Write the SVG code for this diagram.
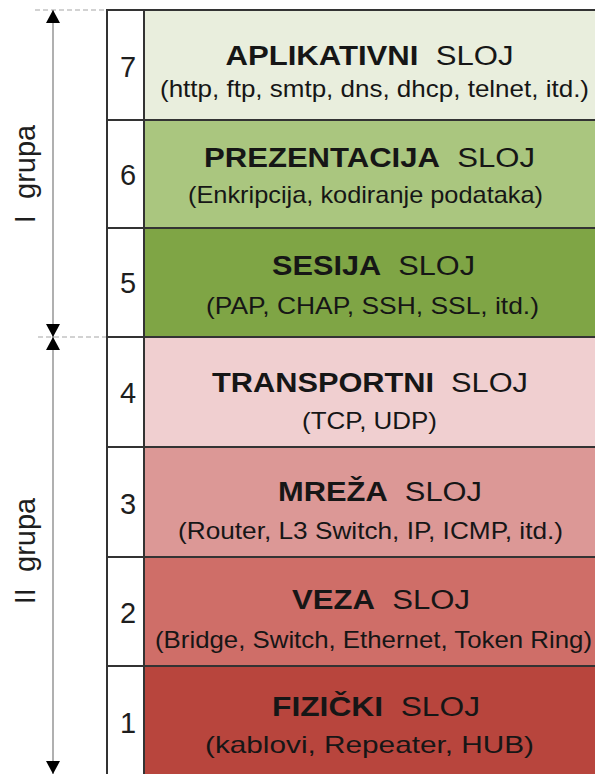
<svg xmlns="http://www.w3.org/2000/svg" width="595" height="774" viewBox="0 0 595 774">
<style>
.t{font-family:"Liberation Sans",Arial,sans-serif;fill:#161616;text-anchor:middle}
.title{font-size:27px}
.b{font-weight:bold}
.sub{font-size:24px}
.num{font-family:"Liberation Sans",Arial,sans-serif;font-size:29px;fill:#1e1e1e;text-anchor:middle}
.grp{font-family:"Liberation Sans",Arial,sans-serif;font-size:29px;fill:#1e1e1e;text-anchor:middle}
.sep{stroke:#333;stroke-width:2}
.dash{stroke:#c4c4c4;stroke-width:1.5;stroke-dasharray:5,3}
.brk{stroke:#b0b0b0;stroke-width:2;fill:none}
</style>
<defs>
<marker id="arr" markerUnits="userSpaceOnUse" markerWidth="13" markerHeight="14" refX="13" refY="7" orient="auto-start-reverse">
<path d="M0,0 L13,7 L0,14 z" fill="#000"/>
</marker>
</defs>
<rect width="595" height="774" fill="#fff"/>

<g id="layer7">
<rect x="144" y="10" width="451" height="110" fill="#e9eedd"/>
<text class="num" x="128" y="77">7</text>
<text class="t title" x="369.5" y="65" textLength="288" lengthAdjust="spacingAndGlyphs" xml:space="preserve"><tspan class="b">APLIKATIVNI</tspan>  SLOJ</text>
<text class="t sub" x="374.5" y="97" textLength="429" lengthAdjust="spacingAndGlyphs">(http, ftp, smtp, dns, dhcp, telnet, itd.)</text>
</g>
<g id="layer6">
<rect x="144" y="120" width="451" height="108" fill="#aac67f"/>
<text class="num" x="128" y="185">6</text>
<text class="t title" x="369.5" y="167" textLength="331" lengthAdjust="spacingAndGlyphs" xml:space="preserve"><tspan class="b">PREZENTACIJA</tspan>  SLOJ</text>
<text class="t sub" x="365.5" y="203" textLength="355" lengthAdjust="spacingAndGlyphs">(Enkripcija, kodiranje podataka)</text>
</g>
<g id="layer5">
<rect x="144" y="228" width="451" height="109" fill="#7fa545"/>
<text class="num" x="128" y="293">5</text>
<text class="t title" x="373.5" y="275" textLength="203" lengthAdjust="spacingAndGlyphs" xml:space="preserve"><tspan class="b">SESIJA</tspan>  SLOJ</text>
<text class="t sub" x="372.5" y="314" textLength="333" lengthAdjust="spacingAndGlyphs">(PAP, CHAP, SSH, SSL, itd.)</text>
</g>
<g id="layer4">
<rect x="144" y="337" width="451" height="110" fill="#f0cfd0"/>
<text class="num" x="128" y="403">4</text>
<text class="t title" x="370" y="392" textLength="316" lengthAdjust="spacingAndGlyphs" xml:space="preserve"><tspan class="b">TRANSPORTNI</tspan>  SLOJ</text>
<text class="t sub" x="369.5" y="429" textLength="135" lengthAdjust="spacingAndGlyphs">(TCP, UDP)</text>
</g>
<g id="layer3">
<rect x="144" y="447" width="451" height="110" fill="#dc9896"/>
<text class="num" x="128" y="514">3</text>
<text class="t title" x="380" y="501" textLength="204" lengthAdjust="spacingAndGlyphs" xml:space="preserve"><tspan class="b">MREŽA</tspan>  SLOJ</text>
<text class="t sub" x="370.5" y="539" textLength="385" lengthAdjust="spacingAndGlyphs">(Router, L3 Switch, IP, ICMP, itd.)</text>
</g>
<g id="layer2">
<rect x="144" y="557" width="451" height="109" fill="#cf6e68"/>
<text class="num" x="128" y="623">2</text>
<text class="t title" x="381" y="609" textLength="178" lengthAdjust="spacingAndGlyphs" xml:space="preserve"><tspan class="b">VEZA</tspan>  SLOJ</text>
<text class="t sub" x="373.5" y="648" textLength="437" lengthAdjust="spacingAndGlyphs">(Bridge, Switch, Ethernet, Token Ring)</text>
</g>
<g id="layer1">
<rect x="144" y="666" width="451" height="108" fill="#b8453d"/>
<text class="num" x="128" y="733">1</text>
<text class="t title" x="376" y="716" textLength="208" lengthAdjust="spacingAndGlyphs" xml:space="preserve"><tspan class="b">FIZIČKI</tspan>  SLOJ</text>
<text class="t sub" x="369.5" y="753" textLength="329" lengthAdjust="spacingAndGlyphs">(kablovi, Repeater, HUB)</text>
</g>

<g id="grid">
<line class="sep" x1="106" y1="10" x2="595" y2="10"/>
<line class="sep" x1="107" y1="120" x2="595" y2="120"/>
<line class="sep" x1="107" y1="228" x2="595" y2="228"/>
<line class="sep" x1="107" y1="337" x2="595" y2="337"/>
<line class="sep" x1="107" y1="447" x2="595" y2="447"/>
<line class="sep" x1="107" y1="557" x2="595" y2="557"/>
<line class="sep" x1="107" y1="666" x2="595" y2="666"/>
<line class="sep" x1="107" y1="10" x2="107" y2="774"/>
<line class="sep" x1="144" y1="10" x2="144" y2="774"/>
</g>

<g id="group1">
<text class="grp" transform="translate(35,174) rotate(-90)" xml:space="preserve">I  grupa</text>
</g>
<g id="group2">
<text class="grp" transform="translate(35,551) rotate(-90)" xml:space="preserve">II  grupa</text>
</g>

<g id="connectors">
<line class="dash" x1="35" y1="10" x2="106" y2="10"/>
<line class="dash" x1="38" y1="337" x2="106" y2="337"/>
<line class="brk" x1="53" y1="10" x2="53" y2="337" marker-start="url(#arr)" marker-end="url(#arr)"/>
<line class="brk" x1="53" y1="337" x2="53" y2="774" marker-start="url(#arr)" marker-end="url(#arr)"/>
</g>
</svg>
